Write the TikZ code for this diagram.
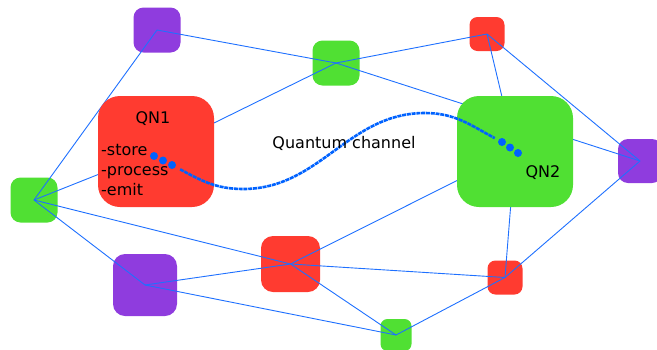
\documentclass[tikz,border=0pt]{standalone}
\usepackage{fontspec}
\setmainfont{DejaVu Sans}
\usetikzlibrary{positioning}

\definecolor{qred}{RGB}{255,59,48}
\definecolor{qgreen}{RGB}{80,224,51}
\definecolor{qpurple}{RGB}{143,60,222}
\definecolor{qblue}{RGB}{30,112,255}
\definecolor{qdotblue}{RGB}{0,98,255}

\pgfdeclarelayer{back}
\pgfdeclarelayer{wires}
\pgfsetlayers{back,wires,main}

\begin{document}
\begin{tikzpicture}[x=1pt,y=-1pt,font=\fontsize{16}{20}\selectfont]
  \tikzstyle{box}=[rectangle,inner sep=0pt]
  \tikzstyle{tiny}=[box,rounded corners=8pt,minimum width=35pt,minimum height=34pt]
  \tikzstyle{mid}=[box,rounded corners=10pt,minimum width=47pt,minimum height=45pt]
  \tikzstyle{big}=[box,rounded corners=22pt,minimum width=116pt,minimum height=111pt]
  \tikzstyle{link}=[draw=qblue,line width=0.9pt]
  \tikzstyle{qdot}=[circle,fill=qdotblue,inner sep=0pt,minimum size=8pt]
  \tikzstyle{channel}=[draw=qdotblue,line width=2.6pt,dash pattern=on 4pt off 0.8pt,
                       shorten <=5pt,shorten >=4pt]

  \useasboundingbox (0,0) rectangle (657,349);

  % quantum nodes
  \node[big,fill=qred]   (qn1) at (156,151.5) {};
  \node[big,fill=qgreen] (qn2) at (515,151.5) {};

  \begin{pgfonlayer}{back}
    \node[mid,fill=qpurple] (p1) at (157,30)  {};
    \node[mid,fill=qgreen]  (g1) at (336,63)  {};
    \node[tiny,fill=qred]   (r1) at (487,34)  {};
    \node[mid,fill=qpurple,minimum width=44pt,minimum height=44pt] (p2) at (640,161) {};
    \node[mid,fill=qgreen]  (g2) at (34,200)  {};
    \node[box,fill=qpurple,rounded corners=12pt,minimum width=64pt,minimum height=62pt] (p3) at (145,285) {};
    \node[box,fill=qred,rounded corners=12pt,minimum width=59pt,minimum height=56pt] (r2) at (290.5,264) {};
    \node[tiny,fill=qred]   (r3) at (505,277.5) {};
    \node[tiny,fill=qgreen,minimum width=31pt,minimum height=32pt,rounded corners=7pt] (g3) at (396,335) {};
  \end{pgfonlayer}

  \begin{pgfonlayer}{wires}
    \path[link]
    (p1.center) edge (g1.center)
                edge (g2.center)
    (g1.center) edge (r1.center)
                edge (qn1.center)
                edge (p2.center)
    (r1.center) edge (qn2.center)
                edge (p2.center)
    (p2.center) edge (r3.center)
    (qn2.center) edge (r3.center)
                 edge (r2.center)
    (r2.center) edge (r3.center)
                edge (g3.center)
    (r3.center) edge (g3.center)
    (p3.center) edge (g3.center)
                edge (r2.center)
    (g2.center) edge (p3.center)
                edge (r2.center)
                edge (qn1.center);
  \end{pgfonlayer}

  % entangled link
  \node[qdot] (a1) at (154,156) {};
  \node[qdot] (a2) at (163,160.5) {};
  \node[qdot] (a3) at (172,165) {};
  \node[qdot] (b1) at (502,142) {};
  \node[qdot] (b2) at (510,147.5) {};
  \node[qdot] (b3) at (518,153) {};
  \coordinate (dip)   at (243,189);
  \coordinate (crest) at (425,113);
  \draw[channel] (a3) to[out=-28,in=180] (dip) to[out=0,in=180] (crest) to[out=0,in=152] (b1);

  \node (chan)  at (344,143) {Quantum channel};
  \node (name1) at (153,119) {QN1};
  \node[align=left,anchor=west,inner sep=0pt] (tasks) at (101,170) {-store\\-process\\-emit};
  \node (name2) at (543,173) {QN2};
\end{tikzpicture}
\end{document}
